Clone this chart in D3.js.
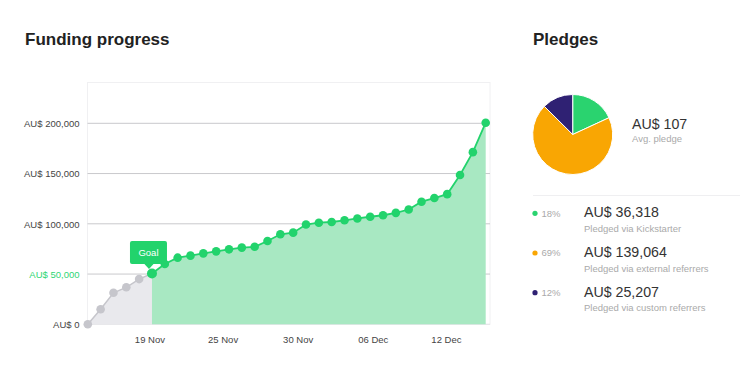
<!DOCTYPE html>
<html>
<head>
<meta charset="utf-8">
<script src="https://cdn.jsdelivr.net/npm/d3@7"></script>
<style>
  html, body { margin: 0; padding: 0; background: #fff; }
  svg { display: block; font-family: "Liberation Sans", Arial, Helvetica, sans-serif; }
</style>
</head>
<body>
<svg id="chart" width="740" height="378"></svg>
<script>
// ---- Data ----
const funding = [0, 15000, 31400, 36800, 45000, 50500, 60000, 66300, 68300, 70600,
  72600, 74600, 76300, 77100, 82900, 89600, 91200, 99300, 101100, 101800,
  103500, 105300, 107000, 108500, 110900, 114200, 122000, 125600, 129500, 148500,
  171300, 200600];
const goalIndex = 5;
const goalValue = 50000;
const yTicks = [0, 50000, 100000, 150000, 200000];
const xTickLabels = ["19 Nov", "25 Nov", "30 Nov", "06 Dec", "12 Dec"];
const xTickPositions = [4.8, 10.5, 16.35, 22.2, 27.9];

const pledgeLabels = ["Pledged via Kickstarter", "Pledged via external referrers", "Pledged via custom referrers"];
const pledgeAmounts = [36318, 139064, 25207];
const pledgePercents = ["18%", "69%", "12%"];
const avgPledge = 107;

// ---- Styles ----
const GREEN = "#22d36c";
const GREEN_FILL = "#a8e8c2";
const GRAY_FILL = "#e9e9ed";
const GRAY_PT = "#c6c6cc";
const pieColors = ["#2ad36f", "#f9a603", "#2f2173"];

const svg = d3.select("#chart");

// ---- Funding progress ----
svg.append("text").attr("x", 25).attr("y", 45)
  .attr("font-size", 17).attr("font-weight", "bold").attr("fill", "#222")
  .text("Funding progress");

const plot = { left: 87.5, right: 490, top: 82.5, bottom: 324.3 };
const x = d3.scaleLinear().domain([0, funding.length - 1]).range([87.8, 485.7]);
const y = d3.scaleLinear().domain([0, 200000]).range([plot.bottom, 123.3]);

// frame
svg.append("rect").attr("x", plot.left).attr("y", plot.top)
  .attr("width", plot.right - plot.left).attr("height", plot.bottom - plot.top)
  .attr("fill", "none").attr("stroke", "#f0f0f2").attr("stroke-width", 1);

// gridlines
svg.append("g").selectAll("line").data(yTicks).join("line")
  .attr("x1", plot.left).attr("x2", plot.right)
  .attr("y1", d => y(d)).attr("y2", d => y(d))
  .attr("stroke", d => d === 0 ? "#e4e4e8" : "#c9c9cc").attr("stroke-width", 1);

// areas
const pts = funding.map((v, i) => [i, v]);
const area = d3.area().x(d => x(d[0])).y0(y(0)).y1(d => y(d[1]));
svg.append("path").datum(pts.slice(0, goalIndex + 1)).attr("d", area).attr("fill", GRAY_FILL);
svg.append("path").datum(pts.slice(goalIndex)).attr("d", area).attr("fill", GREEN_FILL);

// lines
const line = d3.line().x(d => x(d[0])).y(d => y(d[1]));
svg.append("path").datum(pts.slice(0, goalIndex + 1)).attr("d", line)
  .attr("fill", "none").attr("stroke", GRAY_PT).attr("stroke-width", 1.5);
svg.append("path").datum(pts.slice(goalIndex)).attr("d", line)
  .attr("fill", "none").attr("stroke", GREEN).attr("stroke-width", 1.8);

// points
svg.append("g").selectAll("circle").data(pts).join("circle")
  .attr("cx", d => x(d[0])).attr("cy", d => y(d[1]))
  .attr("r", d => d[0] === goalIndex ? 5 : 4.3)
  .attr("fill", d => d[0] < goalIndex ? GRAY_PT : GREEN);

// y axis labels
const yAxis = d3.axisLeft(y).tickValues(yTicks).tickSize(0).tickPadding(0)
  .tickFormat(d => "AU$ " + d3.format(",")(d));
const gy = svg.append("g").attr("transform", "translate(79.5,0)").call(yAxis);
gy.select(".domain").remove();
gy.selectAll("text").attr("font-size", 9.5).attr("font-family", "Liberation Sans, Arial, sans-serif")
  .attr("fill", d => d === goalValue ? "#2fd574" : "#444").attr("dy", "0.35em");

// x axis labels
const xAxis = d3.axisBottom(x).tickValues(xTickPositions).tickSize(0).tickPadding(0)
  .tickFormat((d, i) => xTickLabels[i]);
const gx = svg.append("g").attr("transform", "translate(0,336)").call(xAxis);
gx.select(".domain").remove();
gx.selectAll("text").attr("font-size", 9.5).attr("font-family", "Liberation Sans, Arial, sans-serif")
  .attr("fill", "#444");

// goal tooltip
const gx0 = x(goalIndex) - 3;
const tip = svg.append("g");
const bx = gx0 - 19, bw = 37, by = 241, bh = 23;
tip.append("rect").attr("x", bx).attr("y", by).attr("width", bw).attr("height", bh)
  .attr("rx", 2).attr("fill", GREEN);
tip.append("path")
  .attr("d", `M${gx0 - 5},${by + bh - 0.5} L${gx0},${by + bh + 5} L${gx0 + 5},${by + bh - 0.5} Z`)
  .attr("fill", GREEN);
tip.append("text").attr("x", bx + bw / 2).attr("y", by + bh / 2).attr("dy", "0.35em")
  .attr("text-anchor", "middle").attr("font-size", 9.5).attr("fill", "#fff").text("Goal");

// ---- Pledges ----
svg.append("text").attr("x", 533).attr("y", 45)
  .attr("font-size", 17).attr("font-weight", "bold").attr("fill", "#222")
  .text("Pledges");

const pie = d3.pie().sort(null).value(d => d);
const arc = d3.arc().innerRadius(0).outerRadius(40);
svg.append("g").attr("transform", "translate(572.7,134.5)")
  .selectAll("path").data(pie(pledgeAmounts)).join("path")
  .attr("d", arc).attr("fill", (d, i) => pieColors[i])
  .attr("stroke", "#fff").attr("stroke-width", 1);

svg.append("text").attr("x", 632).attr("y", 128.5)
  .attr("font-size", 14.2).attr("fill", "#333").text("AU$ " + avgPledge);
svg.append("text").attr("x", 632).attr("y", 142)
  .attr("font-size", 9.5).attr("fill", "#aaa").text("Avg. pledge");

svg.append("line").attr("x1", 533).attr("x2", 740).attr("y1", 195.5).attr("y2", 195.5)
  .attr("stroke", "#efeff1").attr("stroke-width", 1);

const rowY = d3.scaleLinear().domain([0, 1]).range([213.3, 253]);
const rows = svg.append("g").selectAll("g").data(pledgeAmounts).join("g")
  .attr("transform", (d, i) => `translate(0,${rowY(i)})`);
rows.append("circle").attr("cx", 535).attr("cy", 0).attr("r", 2.6)
  .attr("fill", (d, i) => pieColors[i]);
rows.append("text").attr("x", 541.5).attr("y", 0).attr("dy", "0.35em")
  .attr("font-size", 9.5).attr("fill", "#aaa").text((d, i) => pledgePercents[i]);
rows.append("text").attr("x", 584).attr("y", 4)
  .attr("font-size", 14.2).attr("fill", "#333").text(d => "AU$ " + d3.format(",")(d));
rows.append("text").attr("x", 584).attr("y", 18.5)
  .attr("font-size", 9.5).attr("fill", "#aaa").text((d, i) => pledgeLabels[i]);
</script>
</body>
</html>
